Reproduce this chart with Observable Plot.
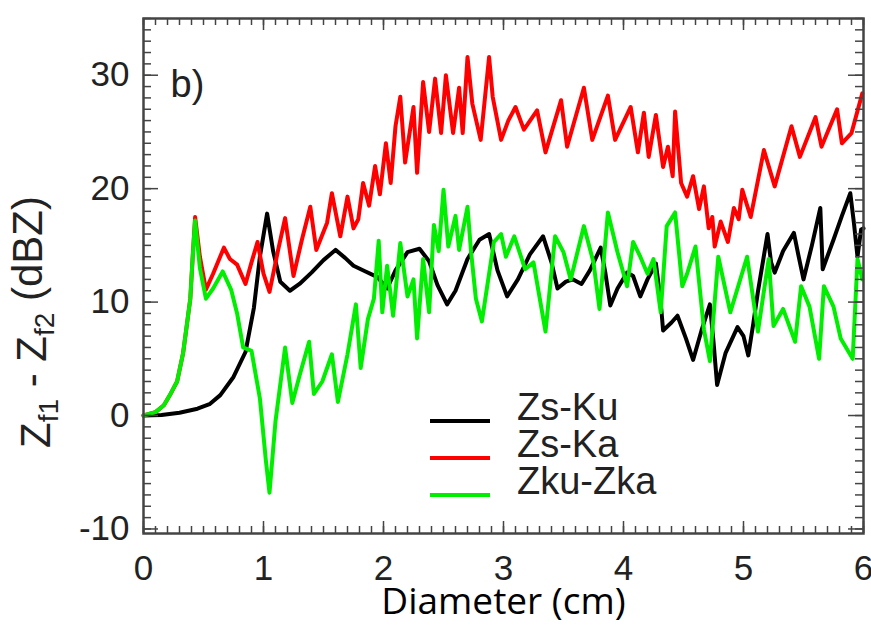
<!DOCTYPE html>
<html><head><meta charset="utf-8">
<script src="https://cdn.jsdelivr.net/npm/d3@7"></script>
<script src="https://cdn.jsdelivr.net/npm/@observablehq/plot@0.6"></script>
<style>body{margin:0;background:#fff}#chart{width:871px;height:625px;overflow:hidden}</style>
</head><body><div id="chart"></div>
<script>
const seriesNames = ["Zs-Ku", "Zs-Ka", "Zku-Zka"];
const seriesColors = ["#000000", "#ff0000", "#00ee00"];

const kuX = [0,0.15,0.3,0.45,0.55,0.64,0.75,0.85,0.92,0.97,1.03,1.08,1.14,1.22,1.3,1.4,1.5,1.6,1.68,1.75,1.85,1.95,2.03,2.1,2.2,2.3,2.38,2.45,2.53,2.6,2.7,2.8,2.88,2.95,3.03,3.12,3.22,3.33,3.4,3.45,3.52,3.58,3.65,3.72,3.81,3.85,3.89,3.95,4.03,4.08,4.14,4.2,4.27,4.31,4.33,4.4,4.45,4.52,4.58,4.65,4.72,4.75,4.78,4.85,4.95,5.0,5.04,5.08,5.12,5.2,5.23,5.26,5.33,5.42,5.46,5.5,5.57,5.64,5.66,5.75,5.82,5.89,5.92,5.95,5.98,6.0];
const kuY = [0,0.05,0.25,0.6,1.0,1.8,3.4,5.6,9.5,14.0,17.8,14.5,11.8,11.0,11.6,12.6,13.7,14.6,13.9,13.2,12.7,12.2,11.2,12.8,14.4,14.7,13.6,11.5,9.8,11.0,13.8,15.5,16.0,12.8,10.5,12.0,14.2,15.8,13.5,11.2,11.8,12.0,11.6,12.8,14.8,12.5,9.7,11.2,12.6,12.3,10.5,12.0,13.4,10.0,7.5,8.2,8.8,6.8,4.9,7.5,9.8,6.5,2.7,5.5,7.8,7.0,5.3,8.0,10.9,16.0,13.5,12.6,14.5,16.1,14.0,12.0,15.0,18.3,12.9,15.5,17.6,19.6,17.0,14.0,16.4,16.5];

const kaX = [0,0.1,0.17,0.22,0.28,0.33,0.36,0.39,0.41,0.43,0.47,0.52,0.58,0.67,0.72,0.78,0.85,0.9,0.95,1.0,1.05,1.12,1.18,1.25,1.32,1.39,1.44,1.53,1.57,1.64,1.7,1.75,1.79,1.83,1.88,1.93,1.97,2.02,2.06,2.1,2.14,2.18,2.25,2.28,2.33,2.38,2.43,2.48,2.52,2.58,2.63,2.66,2.7,2.74,2.81,2.88,2.91,2.98,3.04,3.1,3.17,3.28,3.35,3.48,3.53,3.67,3.74,3.87,3.93,4.06,4.12,4.17,4.21,4.27,4.33,4.37,4.41,4.43,4.48,4.53,4.58,4.63,4.67,4.71,4.74,4.76,4.81,4.87,4.92,4.96,4.99,5.06,5.17,5.26,5.4,5.47,5.6,5.65,5.78,5.82,5.9,5.99];
const kaY = [0,0.3,0.9,1.8,3.0,5.5,7.9,10.3,14.0,17.5,14.0,11.1,12.5,14.8,13.8,13.3,11.6,13.5,15.3,12.5,10.9,14.5,17.4,12.3,15.5,18.4,14.6,17.0,19.6,15.8,19.3,16.5,17.3,20.5,18.5,22.0,19.5,24.0,20.5,25.5,28.1,22.3,27.2,21.4,29.4,25.0,29.7,24.9,30.0,24.9,28.9,24.9,31.6,27.5,24.3,31.6,28.1,24.3,26.0,27.2,25.2,26.9,23.2,27.8,23.7,28.9,24.3,28.2,24.3,27.2,23.2,26.7,22.8,26.5,21.9,23.7,21.1,26.8,20.5,19.3,21.1,18.2,20.2,16.5,17.5,14.9,17.1,15.3,18.3,17.3,19.9,17.5,23.4,20.2,25.5,22.8,26.3,23.7,27.0,24.0,24.9,28.4];

const kukaX = [0,0.1,0.17,0.22,0.28,0.33,0.36,0.39,0.41,0.43,0.47,0.52,0.58,0.66,0.73,0.78,0.83,0.9,0.97,1.02,1.05,1.1,1.18,1.24,1.3,1.38,1.42,1.49,1.57,1.62,1.7,1.77,1.81,1.87,1.92,1.96,1.99,2.03,2.08,2.14,2.2,2.25,2.28,2.33,2.38,2.42,2.46,2.5,2.54,2.6,2.63,2.7,2.73,2.77,2.82,2.92,2.98,3.02,3.09,3.18,3.25,3.35,3.43,3.5,3.56,3.67,3.75,3.8,3.87,3.95,4.03,4.08,4.14,4.2,4.25,4.31,4.36,4.43,4.49,4.53,4.6,4.67,4.72,4.79,4.89,5.03,5.12,5.21,5.25,5.33,5.43,5.48,5.55,5.63,5.67,5.75,5.81,5.91,5.95,5.99];
const kukaY = [0,0.3,0.9,1.8,3.0,5.5,7.9,10.3,14.0,17.2,13.0,10.3,11.2,12.7,11.1,9.0,6.0,5.7,1.5,-4.0,-6.8,-0.5,6.0,1.1,3.5,6.5,1.9,3.0,5.4,1.2,5.4,9.8,4.2,8.5,10.3,15.4,9.1,13.2,8.8,15.2,10.5,12.0,6.8,13.8,9.1,16.8,14.5,19.9,14.9,17.6,14.6,18.4,14.4,10.3,8.3,15.3,16.0,14.0,15.8,12.9,13.5,7.4,15.8,14.4,12.0,16.7,13.5,9.4,17.9,14.4,11.4,15.3,14.0,12.5,13.8,9.1,16.7,17.9,11.4,12.5,14.9,7.6,4.8,14.0,9.1,14.0,7.4,13.8,7.9,9.4,6.5,11.4,9.6,5.0,11.4,9.6,6.8,5.0,13.8,12.0];

const xTickValues = [0, 1, 2, 3, 4, 5, 6];
const yTickValues = [-10, 0, 10, 20, 30];

const W = 871, H = 625, mt = 18, mb = 92, ml = 143, mr = 8;
const ph = H - mt - mb, pw = W - ml - mr;
const rows = (xs, ys) => xs.map((x, i) => ({x, y: ys[i]}));
const xMinor = d3.range(0, 61).map(i => i / 10);
const yMinor = d3.range(-10, 36);
const tickCol = "#444";
const fmt = d => String(d);

const plot = Plot.plot({
  width: W, height: H,
  marginTop: mt, marginBottom: mb, marginLeft: ml, marginRight: mr,
  x: {domain: [0, 6]},
  y: {domain: [-10.4, 35]},
  style: {fontFamily: "'Liberation Sans', Arial, sans-serif", fontSize: "35px", background: "white", color: "#222", overflow: "visible"},
  marks: [
    Plot.line(rows(kuX, kuY), {x: "x", y: "y", stroke: seriesColors[0], strokeWidth: 4}),
    Plot.line(rows(kaX, kaY), {x: "x", y: "y", stroke: seriesColors[1], strokeWidth: 4}),
    Plot.line(rows(kukaX, kukaY), {x: "x", y: "y", stroke: seriesColors[2], strokeWidth: 4}),
    Plot.tickX(xMinor, {x: d => d, insetTop: ph - 7, stroke: tickCol, strokeWidth: 1.5}),
    Plot.tickX(xMinor, {x: d => d, insetBottom: ph - 7, stroke: tickCol, strokeWidth: 1.5}),
    Plot.tickX(xTickValues, {x: d => d, insetTop: ph - 12, stroke: tickCol, strokeWidth: 1.5}),
    Plot.tickX(xTickValues, {x: d => d, insetBottom: ph - 12, stroke: tickCol, strokeWidth: 1.5}),
    Plot.tickY(yMinor, {y: d => d, insetRight: pw - 8, stroke: tickCol, strokeWidth: 1.5}),
    Plot.tickY(yMinor, {y: d => d, insetLeft: pw - 8, stroke: tickCol, strokeWidth: 1.5}),
    Plot.tickY(yTickValues, {y: d => d, insetRight: pw - 15, stroke: tickCol, strokeWidth: 1.5}),
    Plot.tickY(yTickValues, {y: d => d, insetLeft: pw - 15, stroke: tickCol, strokeWidth: 1.5}),
    Plot.frame({stroke: tickCol, strokeWidth: 2.5}),
    Plot.axisX(xTickValues, {tickSize: 0, tickPadding: 22, label: null, fontSize: 35, tickFormat: fmt}),
    Plot.axisY(yTickValues, {tickSize: 0, tickPadding: 14, label: null, fontSize: 35, tickFormat: fmt}),
    Plot.text(["b)"], {frameAnchor: "top-left", dx: 27, dy: 52, fontSize: 38, textAnchor: "start", fill: "#222"}),
    Plot.text(["Diameter (cm)"], {frameAnchor: "bottom", dy: 80, fontSize: 37, fontFamily: "'Open Sans', sans-serif", fill: "#000"})
  ]
});
document.getElementById("chart").appendChild(plot);

const svg = d3.select(plot);
// y axis title with subscripts
const yl = svg.append("text")
  .attr("transform", "translate(50,322) rotate(-90)")
  .attr("text-anchor", "middle")
  .attr("font-family", "'Liberation Sans', Arial, sans-serif")
  .attr("font-size", 42)
  .attr("fill", "#222");
yl.append("tspan").text("Z");
yl.append("tspan").attr("font-size", 28).attr("dy", "0.3em").text("f1");
yl.append("tspan").attr("dy", "-0.3em").text(" - Z");
yl.append("tspan").attr("font-size", 28).attr("dy", "0.3em").text("f2");
yl.append("tspan").attr("dy", "-0.3em").text(" (dBZ)");

// legend
const legY = [421, 458, 495];
const leg = svg.append("g");
seriesNames.forEach((name, i) => {
  leg.append("line").attr("x1", 430).attr("x2", 490).attr("y1", legY[i]).attr("y2", legY[i])
    .attr("stroke", seriesColors[i]).attr("stroke-width", 4);
  leg.append("text").attr("x", 517).attr("y", legY[i] - 1)
    .attr("text-anchor", "start")
    .attr("font-family", "'Liberation Sans', Arial, sans-serif").attr("font-size", 38)
    .attr("fill", "#222").text(name);
});
</script>
</body></html>
